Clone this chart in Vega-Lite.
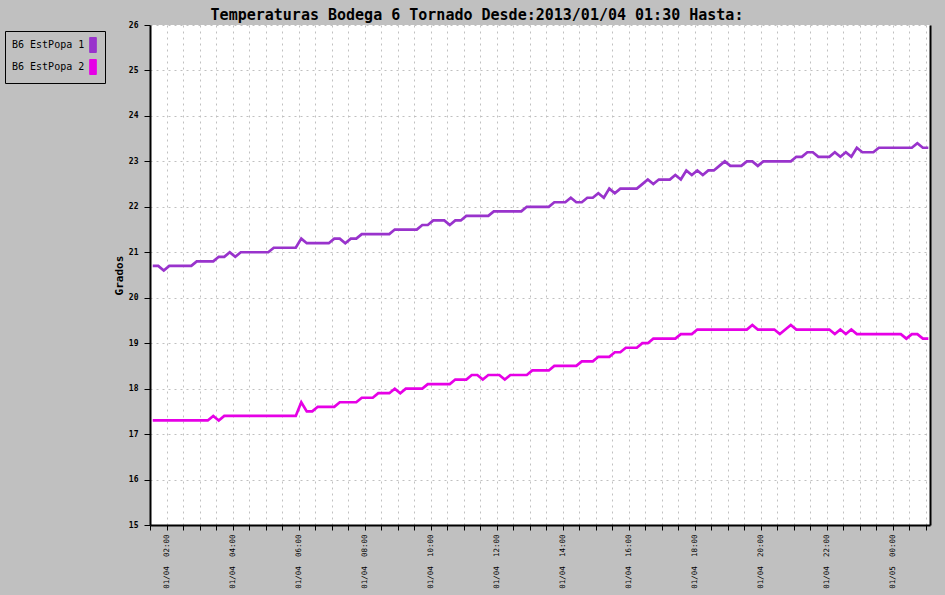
{
  "$schema": "https://vega.github.io/schema/vega-lite/v6.json",
  "width": 780,
  "height": 500,
  "autosize": {"type": "none"},
  "padding": {"left": 150, "top": 25, "right": 15, "bottom": 70},
  "background": "#c0c0c0",
  "title": {
    "text": "Temperaturas Bodega 6 Tornado Desde:2013/01/04 01:30 Hasta:",
    "font": "DejaVu Sans Mono",
    "fontSize": 15,
    "fontWeight": "bold",
    "color": "black",
    "anchor": "middle",
    "dx": -63,
    "offset": -2
  },
  "data": {
    "values": [
      {"time": "2013-01-04T01:35", "temp": 20.7, "serie": "B6 EstPopa 1"},
      {"time": "2013-01-04T01:45", "temp": 20.7, "serie": "B6 EstPopa 1"},
      {"time": "2013-01-04T01:55", "temp": 20.6, "serie": "B6 EstPopa 1"},
      {"time": "2013-01-04T02:05", "temp": 20.7, "serie": "B6 EstPopa 1"},
      {"time": "2013-01-04T02:45", "temp": 20.7, "serie": "B6 EstPopa 1"},
      {"time": "2013-01-04T02:55", "temp": 20.8, "serie": "B6 EstPopa 1"},
      {"time": "2013-01-04T03:25", "temp": 20.8, "serie": "B6 EstPopa 1"},
      {"time": "2013-01-04T03:35", "temp": 20.9, "serie": "B6 EstPopa 1"},
      {"time": "2013-01-04T03:45", "temp": 20.9, "serie": "B6 EstPopa 1"},
      {"time": "2013-01-04T03:55", "temp": 21.0, "serie": "B6 EstPopa 1"},
      {"time": "2013-01-04T04:05", "temp": 20.9, "serie": "B6 EstPopa 1"},
      {"time": "2013-01-04T04:15", "temp": 21.0, "serie": "B6 EstPopa 1"},
      {"time": "2013-01-04T05:05", "temp": 21.0, "serie": "B6 EstPopa 1"},
      {"time": "2013-01-04T05:15", "temp": 21.1, "serie": "B6 EstPopa 1"},
      {"time": "2013-01-04T05:55", "temp": 21.1, "serie": "B6 EstPopa 1"},
      {"time": "2013-01-04T06:05", "temp": 21.3, "serie": "B6 EstPopa 1"},
      {"time": "2013-01-04T06:15", "temp": 21.2, "serie": "B6 EstPopa 1"},
      {"time": "2013-01-04T06:55", "temp": 21.2, "serie": "B6 EstPopa 1"},
      {"time": "2013-01-04T07:05", "temp": 21.3, "serie": "B6 EstPopa 1"},
      {"time": "2013-01-04T07:15", "temp": 21.3, "serie": "B6 EstPopa 1"},
      {"time": "2013-01-04T07:25", "temp": 21.2, "serie": "B6 EstPopa 1"},
      {"time": "2013-01-04T07:35", "temp": 21.3, "serie": "B6 EstPopa 1"},
      {"time": "2013-01-04T07:45", "temp": 21.3, "serie": "B6 EstPopa 1"},
      {"time": "2013-01-04T07:55", "temp": 21.4, "serie": "B6 EstPopa 1"},
      {"time": "2013-01-04T08:45", "temp": 21.4, "serie": "B6 EstPopa 1"},
      {"time": "2013-01-04T08:55", "temp": 21.5, "serie": "B6 EstPopa 1"},
      {"time": "2013-01-04T09:35", "temp": 21.5, "serie": "B6 EstPopa 1"},
      {"time": "2013-01-04T09:45", "temp": 21.6, "serie": "B6 EstPopa 1"},
      {"time": "2013-01-04T09:55", "temp": 21.6, "serie": "B6 EstPopa 1"},
      {"time": "2013-01-04T10:05", "temp": 21.7, "serie": "B6 EstPopa 1"},
      {"time": "2013-01-04T10:25", "temp": 21.7, "serie": "B6 EstPopa 1"},
      {"time": "2013-01-04T10:35", "temp": 21.6, "serie": "B6 EstPopa 1"},
      {"time": "2013-01-04T10:45", "temp": 21.7, "serie": "B6 EstPopa 1"},
      {"time": "2013-01-04T10:55", "temp": 21.7, "serie": "B6 EstPopa 1"},
      {"time": "2013-01-04T11:05", "temp": 21.8, "serie": "B6 EstPopa 1"},
      {"time": "2013-01-04T11:45", "temp": 21.8, "serie": "B6 EstPopa 1"},
      {"time": "2013-01-04T11:55", "temp": 21.9, "serie": "B6 EstPopa 1"},
      {"time": "2013-01-04T12:45", "temp": 21.9, "serie": "B6 EstPopa 1"},
      {"time": "2013-01-04T12:55", "temp": 22.0, "serie": "B6 EstPopa 1"},
      {"time": "2013-01-04T13:35", "temp": 22.0, "serie": "B6 EstPopa 1"},
      {"time": "2013-01-04T13:45", "temp": 22.1, "serie": "B6 EstPopa 1"},
      {"time": "2013-01-04T14:05", "temp": 22.1, "serie": "B6 EstPopa 1"},
      {"time": "2013-01-04T14:15", "temp": 22.2, "serie": "B6 EstPopa 1"},
      {"time": "2013-01-04T14:25", "temp": 22.1, "serie": "B6 EstPopa 1"},
      {"time": "2013-01-04T14:35", "temp": 22.1, "serie": "B6 EstPopa 1"},
      {"time": "2013-01-04T14:45", "temp": 22.2, "serie": "B6 EstPopa 1"},
      {"time": "2013-01-04T14:55", "temp": 22.2, "serie": "B6 EstPopa 1"},
      {"time": "2013-01-04T15:05", "temp": 22.3, "serie": "B6 EstPopa 1"},
      {"time": "2013-01-04T15:15", "temp": 22.2, "serie": "B6 EstPopa 1"},
      {"time": "2013-01-04T15:25", "temp": 22.4, "serie": "B6 EstPopa 1"},
      {"time": "2013-01-04T15:35", "temp": 22.3, "serie": "B6 EstPopa 1"},
      {"time": "2013-01-04T15:45", "temp": 22.4, "serie": "B6 EstPopa 1"},
      {"time": "2013-01-04T16:15", "temp": 22.4, "serie": "B6 EstPopa 1"},
      {"time": "2013-01-04T16:25", "temp": 22.5, "serie": "B6 EstPopa 1"},
      {"time": "2013-01-04T16:35", "temp": 22.6, "serie": "B6 EstPopa 1"},
      {"time": "2013-01-04T16:45", "temp": 22.5, "serie": "B6 EstPopa 1"},
      {"time": "2013-01-04T16:55", "temp": 22.6, "serie": "B6 EstPopa 1"},
      {"time": "2013-01-04T17:15", "temp": 22.6, "serie": "B6 EstPopa 1"},
      {"time": "2013-01-04T17:25", "temp": 22.7, "serie": "B6 EstPopa 1"},
      {"time": "2013-01-04T17:35", "temp": 22.6, "serie": "B6 EstPopa 1"},
      {"time": "2013-01-04T17:45", "temp": 22.8, "serie": "B6 EstPopa 1"},
      {"time": "2013-01-04T17:55", "temp": 22.7, "serie": "B6 EstPopa 1"},
      {"time": "2013-01-04T18:05", "temp": 22.8, "serie": "B6 EstPopa 1"},
      {"time": "2013-01-04T18:15", "temp": 22.7, "serie": "B6 EstPopa 1"},
      {"time": "2013-01-04T18:25", "temp": 22.8, "serie": "B6 EstPopa 1"},
      {"time": "2013-01-04T18:35", "temp": 22.8, "serie": "B6 EstPopa 1"},
      {"time": "2013-01-04T18:45", "temp": 22.9, "serie": "B6 EstPopa 1"},
      {"time": "2013-01-04T18:55", "temp": 23.0, "serie": "B6 EstPopa 1"},
      {"time": "2013-01-04T19:05", "temp": 22.9, "serie": "B6 EstPopa 1"},
      {"time": "2013-01-04T19:25", "temp": 22.9, "serie": "B6 EstPopa 1"},
      {"time": "2013-01-04T19:35", "temp": 23.0, "serie": "B6 EstPopa 1"},
      {"time": "2013-01-04T19:45", "temp": 23.0, "serie": "B6 EstPopa 1"},
      {"time": "2013-01-04T19:55", "temp": 22.9, "serie": "B6 EstPopa 1"},
      {"time": "2013-01-04T20:05", "temp": 23.0, "serie": "B6 EstPopa 1"},
      {"time": "2013-01-04T20:55", "temp": 23.0, "serie": "B6 EstPopa 1"},
      {"time": "2013-01-04T21:05", "temp": 23.1, "serie": "B6 EstPopa 1"},
      {"time": "2013-01-04T21:15", "temp": 23.1, "serie": "B6 EstPopa 1"},
      {"time": "2013-01-04T21:25", "temp": 23.2, "serie": "B6 EstPopa 1"},
      {"time": "2013-01-04T21:35", "temp": 23.2, "serie": "B6 EstPopa 1"},
      {"time": "2013-01-04T21:45", "temp": 23.1, "serie": "B6 EstPopa 1"},
      {"time": "2013-01-04T22:05", "temp": 23.1, "serie": "B6 EstPopa 1"},
      {"time": "2013-01-04T22:15", "temp": 23.2, "serie": "B6 EstPopa 1"},
      {"time": "2013-01-04T22:25", "temp": 23.1, "serie": "B6 EstPopa 1"},
      {"time": "2013-01-04T22:35", "temp": 23.2, "serie": "B6 EstPopa 1"},
      {"time": "2013-01-04T22:45", "temp": 23.1, "serie": "B6 EstPopa 1"},
      {"time": "2013-01-04T22:55", "temp": 23.3, "serie": "B6 EstPopa 1"},
      {"time": "2013-01-04T23:05", "temp": 23.2, "serie": "B6 EstPopa 1"},
      {"time": "2013-01-04T23:25", "temp": 23.2, "serie": "B6 EstPopa 1"},
      {"time": "2013-01-04T23:35", "temp": 23.3, "serie": "B6 EstPopa 1"},
      {"time": "2013-01-05T00:35", "temp": 23.3, "serie": "B6 EstPopa 1"},
      {"time": "2013-01-05T00:45", "temp": 23.4, "serie": "B6 EstPopa 1"},
      {"time": "2013-01-05T00:55", "temp": 23.3, "serie": "B6 EstPopa 1"},
      {"time": "2013-01-05T01:05", "temp": 23.3, "serie": "B6 EstPopa 1"},
      {"time": "2013-01-04T01:35", "temp": 17.3, "serie": "B6 EstPopa 2"},
      {"time": "2013-01-04T03:15", "temp": 17.3, "serie": "B6 EstPopa 2"},
      {"time": "2013-01-04T03:25", "temp": 17.4, "serie": "B6 EstPopa 2"},
      {"time": "2013-01-04T03:35", "temp": 17.3, "serie": "B6 EstPopa 2"},
      {"time": "2013-01-04T03:45", "temp": 17.4, "serie": "B6 EstPopa 2"},
      {"time": "2013-01-04T05:55", "temp": 17.4, "serie": "B6 EstPopa 2"},
      {"time": "2013-01-04T06:05", "temp": 17.7, "serie": "B6 EstPopa 2"},
      {"time": "2013-01-04T06:15", "temp": 17.5, "serie": "B6 EstPopa 2"},
      {"time": "2013-01-04T06:25", "temp": 17.5, "serie": "B6 EstPopa 2"},
      {"time": "2013-01-04T06:35", "temp": 17.6, "serie": "B6 EstPopa 2"},
      {"time": "2013-01-04T07:05", "temp": 17.6, "serie": "B6 EstPopa 2"},
      {"time": "2013-01-04T07:15", "temp": 17.7, "serie": "B6 EstPopa 2"},
      {"time": "2013-01-04T07:45", "temp": 17.7, "serie": "B6 EstPopa 2"},
      {"time": "2013-01-04T07:55", "temp": 17.8, "serie": "B6 EstPopa 2"},
      {"time": "2013-01-04T08:15", "temp": 17.8, "serie": "B6 EstPopa 2"},
      {"time": "2013-01-04T08:25", "temp": 17.9, "serie": "B6 EstPopa 2"},
      {"time": "2013-01-04T08:45", "temp": 17.9, "serie": "B6 EstPopa 2"},
      {"time": "2013-01-04T08:55", "temp": 18.0, "serie": "B6 EstPopa 2"},
      {"time": "2013-01-04T09:05", "temp": 17.9, "serie": "B6 EstPopa 2"},
      {"time": "2013-01-04T09:15", "temp": 18.0, "serie": "B6 EstPopa 2"},
      {"time": "2013-01-04T09:45", "temp": 18.0, "serie": "B6 EstPopa 2"},
      {"time": "2013-01-04T09:55", "temp": 18.1, "serie": "B6 EstPopa 2"},
      {"time": "2013-01-04T10:35", "temp": 18.1, "serie": "B6 EstPopa 2"},
      {"time": "2013-01-04T10:45", "temp": 18.2, "serie": "B6 EstPopa 2"},
      {"time": "2013-01-04T11:05", "temp": 18.2, "serie": "B6 EstPopa 2"},
      {"time": "2013-01-04T11:15", "temp": 18.3, "serie": "B6 EstPopa 2"},
      {"time": "2013-01-04T11:25", "temp": 18.3, "serie": "B6 EstPopa 2"},
      {"time": "2013-01-04T11:35", "temp": 18.2, "serie": "B6 EstPopa 2"},
      {"time": "2013-01-04T11:45", "temp": 18.3, "serie": "B6 EstPopa 2"},
      {"time": "2013-01-04T12:05", "temp": 18.3, "serie": "B6 EstPopa 2"},
      {"time": "2013-01-04T12:15", "temp": 18.2, "serie": "B6 EstPopa 2"},
      {"time": "2013-01-04T12:25", "temp": 18.3, "serie": "B6 EstPopa 2"},
      {"time": "2013-01-04T12:55", "temp": 18.3, "serie": "B6 EstPopa 2"},
      {"time": "2013-01-04T13:05", "temp": 18.4, "serie": "B6 EstPopa 2"},
      {"time": "2013-01-04T13:35", "temp": 18.4, "serie": "B6 EstPopa 2"},
      {"time": "2013-01-04T13:45", "temp": 18.5, "serie": "B6 EstPopa 2"},
      {"time": "2013-01-04T14:25", "temp": 18.5, "serie": "B6 EstPopa 2"},
      {"time": "2013-01-04T14:35", "temp": 18.6, "serie": "B6 EstPopa 2"},
      {"time": "2013-01-04T14:55", "temp": 18.6, "serie": "B6 EstPopa 2"},
      {"time": "2013-01-04T15:05", "temp": 18.7, "serie": "B6 EstPopa 2"},
      {"time": "2013-01-04T15:25", "temp": 18.7, "serie": "B6 EstPopa 2"},
      {"time": "2013-01-04T15:35", "temp": 18.8, "serie": "B6 EstPopa 2"},
      {"time": "2013-01-04T15:45", "temp": 18.8, "serie": "B6 EstPopa 2"},
      {"time": "2013-01-04T15:55", "temp": 18.9, "serie": "B6 EstPopa 2"},
      {"time": "2013-01-04T16:15", "temp": 18.9, "serie": "B6 EstPopa 2"},
      {"time": "2013-01-04T16:25", "temp": 19.0, "serie": "B6 EstPopa 2"},
      {"time": "2013-01-04T16:35", "temp": 19.0, "serie": "B6 EstPopa 2"},
      {"time": "2013-01-04T16:45", "temp": 19.1, "serie": "B6 EstPopa 2"},
      {"time": "2013-01-04T17:25", "temp": 19.1, "serie": "B6 EstPopa 2"},
      {"time": "2013-01-04T17:35", "temp": 19.2, "serie": "B6 EstPopa 2"},
      {"time": "2013-01-04T17:55", "temp": 19.2, "serie": "B6 EstPopa 2"},
      {"time": "2013-01-04T18:05", "temp": 19.3, "serie": "B6 EstPopa 2"},
      {"time": "2013-01-04T19:35", "temp": 19.3, "serie": "B6 EstPopa 2"},
      {"time": "2013-01-04T19:45", "temp": 19.4, "serie": "B6 EstPopa 2"},
      {"time": "2013-01-04T19:55", "temp": 19.3, "serie": "B6 EstPopa 2"},
      {"time": "2013-01-04T20:25", "temp": 19.3, "serie": "B6 EstPopa 2"},
      {"time": "2013-01-04T20:35", "temp": 19.2, "serie": "B6 EstPopa 2"},
      {"time": "2013-01-04T20:45", "temp": 19.3, "serie": "B6 EstPopa 2"},
      {"time": "2013-01-04T20:55", "temp": 19.4, "serie": "B6 EstPopa 2"},
      {"time": "2013-01-04T21:05", "temp": 19.3, "serie": "B6 EstPopa 2"},
      {"time": "2013-01-04T22:05", "temp": 19.3, "serie": "B6 EstPopa 2"},
      {"time": "2013-01-04T22:15", "temp": 19.2, "serie": "B6 EstPopa 2"},
      {"time": "2013-01-04T22:25", "temp": 19.3, "serie": "B6 EstPopa 2"},
      {"time": "2013-01-04T22:35", "temp": 19.2, "serie": "B6 EstPopa 2"},
      {"time": "2013-01-04T22:45", "temp": 19.3, "serie": "B6 EstPopa 2"},
      {"time": "2013-01-04T22:55", "temp": 19.2, "serie": "B6 EstPopa 2"},
      {"time": "2013-01-05T00:15", "temp": 19.2, "serie": "B6 EstPopa 2"},
      {"time": "2013-01-05T00:25", "temp": 19.1, "serie": "B6 EstPopa 2"},
      {"time": "2013-01-05T00:35", "temp": 19.2, "serie": "B6 EstPopa 2"},
      {"time": "2013-01-05T00:45", "temp": 19.2, "serie": "B6 EstPopa 2"},
      {"time": "2013-01-05T00:55", "temp": 19.1, "serie": "B6 EstPopa 2"},
      {"time": "2013-01-05T01:05", "temp": 19.1, "serie": "B6 EstPopa 2"}
    ]
  },
  "resolve": {"axis": {"x": "independent", "y": "independent"}},
  "layer": [
    {
      "mark": {"type": "line", "strokeWidth": 2.7},
      "encoding": {
        "x": {
          "field": "time",
          "type": "temporal",
          "scale": {"domain": [{"year": 2013, "month": 1, "date": 4, "hours": 1, "minutes": 30}, {"year": 2013, "month": 1, "date": 5, "hours": 1, "minutes": 8}]},
          "axis": {
            "orient": "bottom",
            "title": null,
            "tickCount": 47,
            "labels": false,
            "tickSize": 5,
            "tickColor": "black",
            "domainColor": "black",
            "domainWidth": 2,
            "gridColor": "#c0c0c0",
            "gridDash": [2, 4]
          }
        },
        "y": {
          "field": "temp",
          "type": "quantitative",
          "scale": {"domain": [15, 26], "nice": false, "zero": false},
          "axis": {
            "orient": "left",
            "title": "Grados",
            "titleFont": "DejaVu Sans Mono",
            "titleFontSize": 11,
            "titleFontWeight": "bold",
            "titleColor": "black",
            "titlePadding": 4,
            "values": [15, 16, 17, 18, 19, 20, 21, 22, 23, 24, 25, 26],
            "labelFont": "DejaVu Sans Mono",
            "labelFontSize": 8,
            "labelFontWeight": "bold",
            "labelColor": "black",
            "labelPadding": 6,
            "tickSize": 6,
            "tickColor": "black",
            "domainColor": "black",
            "domainWidth": 2,
            "gridColor": "#c0c0c0",
            "gridDash": [2, 4]
          }
        },
        "color": {
          "field": "serie",
          "type": "nominal",
          "scale": {"domain": ["B6 EstPopa 1", "B6 EstPopa 2"], "range": ["#9933cc", "#e600e6"]},
          "legend": {
            "title": null,
            "orient": "none",
            "legendX": -145,
            "legendY": 6,
            "fillColor": "#c0c0c0",
            "strokeColor": "black",
            "padding": 6,
            "labelFont": "DejaVu Sans Mono",
            "labelFontSize": 10,
            "labelColor": "black",
            "symbolType": "M-0.44,-1H0.44V1H-0.44Z",
            "symbolSize": 225,
            "symbolOffset": 74,
            "labelOffset": -89,
            "symbolStrokeWidth": 1,
            "encode": {
              "symbols": {
                "update": {
                  "fill": {"scale": "color", "field": "value"},
                  "stroke": {"value": "black"},
                  "strokeWidth": {"value": 1},
                  "fillOpacity": {"value": 1}
                }
              }
            }
          }
        }
      }
    },
    {
      "mark": {"type": "line", "opacity": 0},
      "encoding": {
        "detail": {"field": "serie", "type": "nominal"},
        "x": {
          "field": "time",
          "type": "temporal",
          "axis": {
            "orient": "bottom",
            "title": null,
            "grid": false,
            "domain": false,
            "ticks": false,
            "values": [
              {"year": 2013, "month": 1, "date": 4, "hours": 2},
              {"year": 2013, "month": 1, "date": 4, "hours": 4},
              {"year": 2013, "month": 1, "date": 4, "hours": 6},
              {"year": 2013, "month": 1, "date": 4, "hours": 8},
              {"year": 2013, "month": 1, "date": 4, "hours": 10},
              {"year": 2013, "month": 1, "date": 4, "hours": 12},
              {"year": 2013, "month": 1, "date": 4, "hours": 14},
              {"year": 2013, "month": 1, "date": 4, "hours": 16},
              {"year": 2013, "month": 1, "date": 4, "hours": 18},
              {"year": 2013, "month": 1, "date": 4, "hours": 20},
              {"year": 2013, "month": 1, "date": 4, "hours": 22},
              {"year": 2013, "month": 1, "date": 5, "hours": 0}
            ],
            "format": "%m/%d\u00a0\u00a0%H:%M",
            "labelAngle": 270,
            "labelAlign": "right",
            "labelBaseline": "middle",
            "labelPadding": 9,
            "labelFont": "DejaVu Sans Mono",
            "labelFontSize": 7.5,
            "labelColor": "black"
          }
        },
        "y": {
          "field": "temp",
          "type": "quantitative",
          "axis": {
            "orient": "right",
            "title": null,
            "labels": false,
            "ticks": false,
            "grid": false,
            "domainColor": "black",
            "domainWidth": 2
          }
        }
      }
    }
  ],
  "config": {
    "font": "DejaVu Sans Mono",
    "view": {"fill": "white", "stroke": null}
  }
}
